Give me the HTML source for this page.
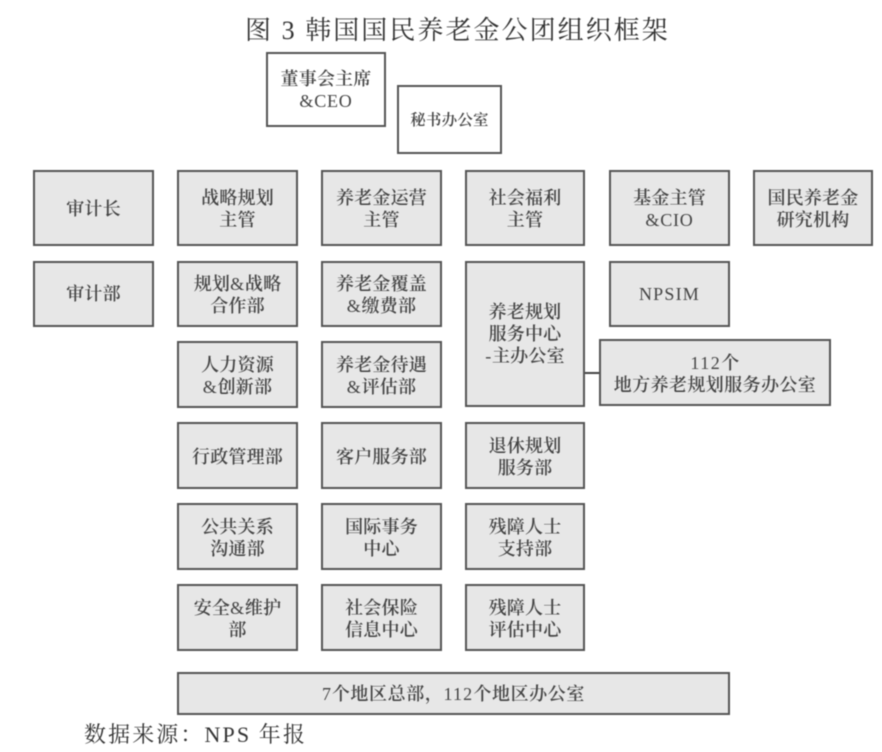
<!DOCTYPE html>
<html>
<head>
<meta charset="utf-8">
<style>
html,body{margin:0;padding:0;background:#fff;}
#c{position:relative;width:882px;height:752px;overflow:hidden;background:#fff;font-family:"Liberation Serif","Noto Serif CJK SC",serif;color:#333;filter:blur(.45px);}
.b{position:absolute;box-sizing:border-box;border:2px solid #555;background:#e7e7e7;display:flex;align-items:center;justify-content:center;text-align:center;font-size:18px;line-height:22px;letter-spacing:.2px;font-weight:600;color:#444;padding-top:2px;}
.b div{display:block;}
.w{background:#fff;}
.n{padding-top:0;}
.t{position:absolute;white-space:nowrap;}
.l{position:absolute;background:#444;}
i{font-style:normal;font-weight:400;letter-spacing:.8px;}
</style>
</head>
<body>
<div id="c">
<div class="t" style="left:245px;top:14px;font-size:26px;line-height:34px;letter-spacing:2.05px;">图 3 韩国国民养老金公团组织框架</div>
<div class="b w n" style="left:266px;top:52px;width:120px;height:75px;"><div>董事会主席<br><i>&amp;CEO</i></div></div>
<div class="b w" style="left:397px;top:85px;width:105px;height:69px;font-size:15.5px;"><div>秘书办公室</div></div>

<div class="b" style="left:33px;top:170px;width:121px;height:76px;"><div>审计长</div></div>
<div class="b" style="left:177px;top:170px;width:121px;height:76px;"><div>战略规划<br>主管</div></div>
<div class="b" style="left:321px;top:170px;width:121px;height:76px;"><div>养老金运营<br>主管</div></div>
<div class="b" style="left:465px;top:170px;width:120px;height:76px;"><div>社会福利<br>主管</div></div>
<div class="b" style="left:609px;top:170px;width:121px;height:76px;"><div>基金主管<br><i>&amp;CIO</i></div></div>
<div class="b" style="left:753px;top:170px;width:120px;height:76px;"><div>国民养老金<br>研究机构</div></div>

<div class="b n" style="left:33px;top:261px;width:121px;height:66px;"><div>审计部</div></div>
<div class="b" style="left:177px;top:261px;width:121px;height:66px;"><div>规划<i>&amp;</i>战略<br>合作部</div></div>
<div class="b" style="left:321px;top:261px;width:121px;height:66px;"><div>养老金覆盖<br><i>&amp;</i>缴费部</div></div>
<div class="b" style="left:465px;top:261px;width:120px;height:146px;padding-bottom:2px;"><div>养老规划<br>服务中心<br><i>-</i>主办公室</div></div>
<div class="b n" style="left:609px;top:261px;width:121px;height:66px;"><div><i style="letter-spacing:1.2px;">NPSIM</i></div></div>

<div class="l" style="left:585px;top:372px;width:15px;height:2px;"></div>
<div class="b" style="left:599px;top:339px;width:232px;height:67px;letter-spacing:.4px;"><div><i style="letter-spacing:1.5px;">112</i>个<br>地方养老规划服务办公室</div></div>

<div class="b" style="left:177px;top:341px;width:121px;height:67px;"><div>人力资源<br><i>&amp;</i>创新部</div></div>
<div class="b" style="left:321px;top:341px;width:121px;height:67px;"><div>养老金待遇<br><i>&amp;</i>评估部</div></div>

<div class="b" style="left:177px;top:422px;width:121px;height:67px;"><div>行政管理部</div></div>
<div class="b" style="left:321px;top:422px;width:121px;height:67px;"><div>客户服务部</div></div>
<div class="b" style="left:465px;top:422px;width:120px;height:67px;"><div>退休规划<br>服务部</div></div>

<div class="b" style="left:177px;top:503px;width:121px;height:67px;"><div>公共关系<br>沟通部</div></div>
<div class="b" style="left:321px;top:503px;width:121px;height:67px;"><div>国际事务<br>中心</div></div>
<div class="b" style="left:465px;top:503px;width:120px;height:67px;"><div>残障人士<br>支持部</div></div>

<div class="b" style="left:177px;top:584px;width:121px;height:67px;"><div>安全<i>&amp;</i>维护<br>部</div></div>
<div class="b" style="left:321px;top:584px;width:121px;height:67px;"><div>社会保险<br>信息中心</div></div>
<div class="b" style="left:465px;top:584px;width:120px;height:67px;"><div>残障人士<br>评估中心</div></div>

<div class="b n" style="left:177px;top:672px;width:553px;height:43px;letter-spacing:.6px;"><div><i>7</i>个地区总部，<i style="letter-spacing:1.2px;">112</i>个地区办公室</div></div>

<div class="t" style="left:84px;top:720px;font-size:22px;line-height:30px;letter-spacing:2.1px;">数据来源：NPS 年报</div>
</div>
</body>
</html>
